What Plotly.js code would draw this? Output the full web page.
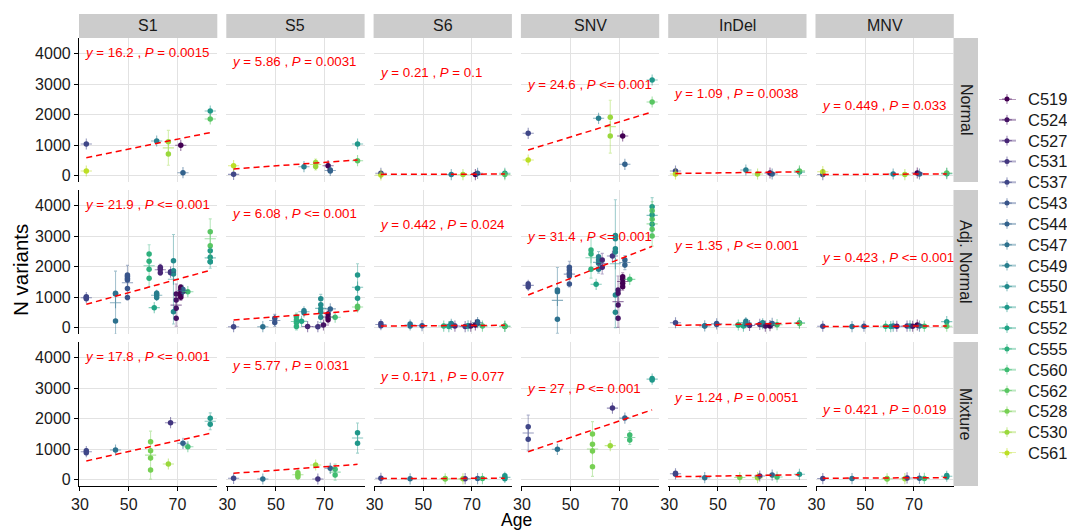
<!DOCTYPE html>
<html><head><meta charset="utf-8">
<script src="https://cdn.plot.ly/plotly-3.0.1.min.js"></script>
<style>html,body{margin:0;padding:0;background:#fff}#chart{width:1067px;height:530px}</style>
</head><body><div id="chart"></div>
<script>
// ---------------- DATA ----------------
const samples = ['C519','C524','C527','C531','C537','C543','C544','C547','C549','C550','C551','C552','C555','C560','C562','C528','C530','C561'];
const sampleAge = [71.4, 69.5, 63.0, 67.2, 32.6, 49.5, 72.3, 44.6, 61.5, 68.4, 83.5, 60.5, 58.4, 74.3, 83.5, 59.0, 66.3, 32.6];
const variantTypes = ['S1','S5','S6','SNV','InDel','MNV'];
const tissues = ['Normal','Adj. Normal','Mixture'];
const xTicks = [30, 50, 70];
const yTicks = [0, 1000, 2000, 3000, 4000];

// each entry: [sample, replicate values...]
const normal_S1 = [['C537',1033],['C561',146],['C549',1131],['C530',1110,705],['C519',990],['C544',90],['C551',2117],['C562',1854]];
const normal_S5 = [['C537',37],['C561',320],['C549',287],['C530',424,296],['C519',320],['C544',180,150],['C551',1033],['C562',485]];
const normal_S6 = [['C537',70],['C561',15],['C549',30],['C530',30],['C519',30],['C544',70],['C551',70],['C562',30]];
const normal_SNV = [['C537',1384],['C561',507],['C549',1877],['C530',1910,1296],['C519',1296],['C544',366],['C551',3135],['C562',2413]];
const normal_InDel = [['C537',146],['C561',47],['C549',179],['C530',47],['C519',80],['C544',47],['C551',110],['C562',150]];
const normal_MNV = [['C537',30],['C561',123],['C549',47],['C530',30],['C519',80],['C544',47],['C551',60],['C562',80]];

const adj_S1 = [['C537',1010,944,980],['C547',1121,1100,212],['C543',1720,1670,1610,1560,1280,980],['C555',2413,2173,1910,1614],['C552',650],['C549',1120,1070,980],['C527',1976,1910,1798],['C531',1832,1798],['C550',2193,1865,1756,517],['C524',1100,902,628,300],['C519',1319,1230,1121,990,1066],['C544',1250,1180],['C560',1175],['C551',2521,2304,2160,2160],['C562',3145,2685]];
const adj_S5 = [['C537',24],['C547',24],['C543',300,160],['C555',354,244,156,30],['C552',200],['C549',480,550],['C527',30],['C531',24],['C550',940,742,610,500,335],['C524',80],['C519',445,335,250],['C544',610],['C560',335],['C551',1723,1285,957],['C562',648,700]];
const adj_S6 = [['C537',130,60],['C547',110,50],['C543',60],['C555',46],['C552',30],['C549',130,70],['C527',46],['C531',30],['C550',46,60],['C524',46],['C519',80],['C544',190,130],['C560',46],['C551',46,30],['C562',40]];
const adj_SNV = [['C537',1427,1340],['C547',1230,1175,268],['C543',1976,1887,1778,1690,1427],['C555',2544,2413,1910],['C552',1417],['C549',2325,2215,2106,1910],['C527',2215,1976],['C531',2347],['C550',3022,2913,2587,2478,1066,500],['C524',1230,1121,737,300],['C519',1668,1580,1449,1340],['C544',2215,2051],['C560',1580],['C551',3967,3694,3387],['C562',3835,3552,3223,3003]];
const adj_InDel = [['C537',155],['C547',45,60],['C543',134,100],['C555',90,70],['C552',45],['C549',200,120],['C527',65],['C531',100],['C550',155,90],['C524',45],['C519',45,70],['C544',134],['C560',90],['C551',155],['C562',130]];
const adj_MNV = [['C537',40],['C547',30],['C543',40],['C555',40],['C552',30],['C549',45],['C527',40],['C531',45],['C550',50],['C524',40],['C519',80],['C544',45],['C560',40],['C551',190],['C562',40]];

const mix_S1 = [['C537',878,945],['C547',967],['C528',1240,944,704,309],['C530',507],['C531',1864],['C544',1187],['C560',1076],['C551',2008,1811]];
const mix_S5 = [['C537',38],['C547',15],['C528',222,156,90],['C530',474],['C531',15],['C544',366],['C560',333,146],['C551',1536,1186]];
const mix_S6 = [['C537',38],['C547',20],['C528',30,15],['C530',20],['C531',25],['C544',30],['C560',30],['C551',120,60,20]];
const mix_SNV = [['C537',1733,1318],['C547',990],['C528',1493,1154,935,420],['C530',1110],['C531',2343],['C544',2015],['C560',1460,1296],['C551',3270,3320]];
const mix_InDel = [['C537',202,170],['C547',58],['C528',62],['C530',58],['C531',113],['C544',145],['C560',80],['C551',170]];
const mix_MNV = [['C537',30],['C547',30],['C528',30,15],['C530',25],['C531',50],['C544',40],['C560',35],['C551',130,80]];

// linear fit per panel (slope shown in label, intercept estimated)
const slope_Normal = [16.2, 5.86, 0.21, 24.6, 1.09, 0.449];
const slope_Adj = [21.9, 6.08, 0.442, 31.4, 1.35, 0.423];
const slope_Mix = [17.8, 5.77, 0.171, 27, 1.24, 0.421];
const intercept_Normal = [56, 22, 28, 34, 29, 14];
const intercept_Adj = [48, 46, 34, 42, 26, 16];
const intercept_Mix = [28, 14, 24, 31, 50, 26];
const pText_Normal = ['= 0.0015','= 0.0031','= 0.1','<= 0.001','= 0.0038','= 0.033'];
const pText_Adj = ['<= 0.001','<= 0.001','= 0.024','<= 0.001','<= 0.001','<= 0.001'];
const pText_Mix = ['<= 0.001','= 0.031','= 0.077','<= 0.001','= 0.0051','= 0.019'];
const labelY = [4050, 3730, 3370, 2990, 2690, 2300];
const labelX = 32.5;

// ---------------- STYLE / LAYOUT ----------------
const panelData = [
  [normal_S1, normal_S5, normal_S6, normal_SNV, normal_InDel, normal_MNV],
  [adj_S1, adj_S5, adj_S6, adj_SNV, adj_InDel, adj_MNV],
  [mix_S1, mix_S5, mix_S6, mix_SNV, mix_InDel, mix_MNV]
];
const slopes = [slope_Normal, slope_Adj, slope_Mix];
const intercepts = [intercept_Normal, intercept_Adj, intercept_Mix];
const pTexts = [pText_Normal, pText_Adj, pText_Mix];

const FW = 1067, FH = 530;
const colL = [79, 226.3, 373.6, 520.9, 668.2, 815.5], PW = 138.3;
const rowT = [38, 190, 342], PH = 144;
const XR = [29.6, 86.4], YR = [-215, 4515];
const FONT = 'Liberation Sans, Arial, sans-serif';

const VIR = [[68,1,84],[72,36,117],[65,68,135],[53,95,141],[42,120,142],[33,145,140],[34,168,132],[68,191,112],[122,209,81],[189,223,38],[253,231,37]];
function viridis(t){
  const p = Math.max(0, Math.min(1, t)) * 10;
  const i = Math.min(9, Math.floor(p)); const f = p - i;
  return VIR[i].map((v,k)=>Math.round(v + (VIR[i+1][k]-v)*f));
}
const sampleRGB = samples.map((s,i)=>viridis(i/(samples.length-1)*0.9));
const rgba = (c,a)=>`rgba(${c[0]},${c[1]},${c[2]},${a})`;

const traces = [];
const layout = {
  width: FW, height: FH, margin: {l:0,r:0,t:0,b:0},
  paper_bgcolor: '#fff', plot_bgcolor: '#fff', showlegend: false,
  font: {family: FONT, color: '#000'},
  shapes: [], annotations: []
};

for (let r = 0; r < 3; r++) {
  for (let c = 0; c < 6; c++) {
    const k = r*6 + c + 1;
    const xn = k === 1 ? 'x' : 'x' + k, yn = k === 1 ? 'y' : 'y' + k;
    const xk = k === 1 ? 'xaxis' : 'xaxis' + k, yk = k === 1 ? 'yaxis' : 'yaxis' + k;
    const bottom = r === 2, left = c === 0;
    layout[xk] = {
      domain: [colL[c]/FW, (colL[c]+PW)/FW], range: XR, anchor: yn,
      tickvals: xTicks, ticktext: xTicks.map(String), showgrid: true, gridcolor: '#E2E2E2', gridwidth: 1,
      zeroline: false, showticklabels: bottom, ticks: bottom ? 'outside' : '', ticklen: 4, tickwidth: 1, tickcolor: '#000',
      showline: bottom, linecolor: '#000', linewidth: 1.1,
      tickfont: {size: 16, color: '#1a1a1a', family: FONT}, fixedrange: true
    };
    layout[yk] = {
      domain: [1-(rowT[r]+PH)/FH, 1-rowT[r]/FH], range: YR, anchor: xn,
      tickvals: yTicks, ticktext: yTicks.map(String), showgrid: true, gridcolor: '#E2E2E2', gridwidth: 1,
      zeroline: false, showticklabels: left, ticks: left ? 'outside' : '', ticklen: 4, tickwidth: 1, tickcolor: '#000',
      showline: left, linecolor: '#000', linewidth: 1.1,
      tickfont: {size: 16, color: '#1a1a1a', family: FONT}, fixedrange: true
    };

    const groups = panelData[r][c];
    const px = [], py = [], pc = [];
    let minA = Infinity, maxA = -Infinity;
    groups.forEach(g => {
      const si = samples.indexOf(g[0]); const age = sampleAge[si];
      minA = Math.min(minA, age); maxA = Math.max(maxA, age);
      g.slice(1).forEach(v => { px.push(age); py.push(v); pc.push(rgba(sampleRGB[si], 1)); });
    });
    traces.push({type:'scatter', mode:'markers', x:px, y:py, xaxis:xn, yaxis:yn, hoverinfo:'skip',
      marker:{size:5.5, color:pc, line:{width:0}}, cliponaxis:false});

    groups.forEach(g => {
      const si = samples.indexOf(g[0]); const age = sampleAge[si];
      const vals = g.slice(1); const n = vals.length;
      const mean = vals.reduce((a,b)=>a+b,0)/n;
      let sd = 0;
      if (n > 1) sd = Math.sqrt(vals.reduce((a,b)=>a+(b-mean)*(b-mean),0)/(n-1));
      traces.push({type:'scatter', mode:'markers', x:[age], y:[mean], xaxis:xn, yaxis:yn, hoverinfo:'skip',
        marker:{symbol:'cross-thin', size:8, color:rgba(sampleRGB[si],0.55), line:{width:1.1, color:rgba(sampleRGB[si],0.55)}},
        error_y:{type:'data', array:[2*sd], visible:n>1, color:rgba(sampleRGB[si],0.42), thickness:1.1, width:1.5},
        cliponaxis:false});
    });

    // regression line
    const lx = [minA, maxA];
    traces.push({type:'scatter', mode:'lines', x:lx, y:lx.map(a=>intercepts[r][c] + slopes[r][c]*a), xaxis:xn, yaxis:yn,
      hoverinfo:'skip', line:{color:'#FF0000', width:1.5, dash:'6px,4px'}});

    layout.annotations.push({xref:xn, yref:yn, x:labelX, y:labelY[c], xanchor:'left', yanchor:'middle', showarrow:false, xshift:-3,
      text:`<i>y</i> = ${slopes[r][c]} , <i>P</i> ${pTexts[r][c]}`, font:{size:13.3, color:'#FF0000', family:FONT}});
  }
}

// strips
variantTypes.forEach((v,c)=>{
  layout.shapes.push({type:'rect', xref:'paper', yref:'paper', x0:colL[c]/FW, x1:(colL[c]+PW)/FW, y0:1-38/FH, y1:1-14/FH,
    fillcolor:'#CCCCCC', line:{width:0}, layer:'below'});
  layout.annotations.push({xref:'paper', yref:'paper', x:(colL[c]+PW/2)/FW, y:1-26/FH, text:v, showarrow:false,
    xanchor:'center', yanchor:'middle', font:{size:16, color:'#1a1a1a', family:FONT}});
});
tissues.forEach((t,r)=>{
  layout.shapes.push({type:'rect', xref:'paper', yref:'paper', x0:953.5/FW, x1:978/FW, y0:1-(rowT[r]+PH)/FH, y1:1-rowT[r]/FH,
    fillcolor:'#CCCCCC', line:{width:0}, layer:'below'});
  layout.annotations.push({xref:'paper', yref:'paper', x:966/FW, y:1-(rowT[r]+PH/2)/FH, text:t, showarrow:false, textangle:90,
    xanchor:'center', yanchor:'middle', font:{size:16, color:'#1a1a1a', family:FONT}});
});

// axis titles
layout.annotations.push({xref:'paper', yref:'paper', x:20/FW, y:1-270/FH, text:'N variants', showarrow:false, textangle:-90,
  xanchor:'center', yanchor:'middle', font:{size:20.5, color:'#000', family:FONT}});
layout.annotations.push({xref:'paper', yref:'paper', x:516/FW, y:1-519.5/FH, text:'Age', showarrow:false,
  xanchor:'center', yanchor:'middle', font:{size:17.5, color:'#000', family:FONT}});

// custom legend (own axis: 17 px per unit horizontally)
layout.xaxis19 = {domain:[999/FW, 1067/FW], range:[0,4], visible:false, fixedrange:true, anchor:'y19'};
layout.yaxis19 = {domain:[1-453/FH, 1-99/FH], range:[samples.length-1, 0], visible:false, fixedrange:true, anchor:'x19'};
samples.forEach((s,i)=>{
  traces.push({type:'scatter', mode:'lines', x:[0,1], y:[i,i], xaxis:'x19', yaxis:'y19', hoverinfo:'skip',
    line:{color:rgba(sampleRGB[i],0.4), width:2}, cliponaxis:false});
  traces.push({type:'scatter', mode:'markers', x:[0.47], y:[i], xaxis:'x19', yaxis:'y19', hoverinfo:'skip',
    marker:{size:5, color:rgba(sampleRGB[i],1)}, cliponaxis:false});
  traces.push({type:'scatter', mode:'markers', x:[0.47], y:[i], xaxis:'x19', yaxis:'y19', hoverinfo:'skip',
    marker:{symbol:'cross-thin', size:7, line:{width:1, color:rgba(sampleRGB[i],0.6)}}, cliponaxis:false});
  layout.annotations.push({xref:'x19', yref:'y19', x:(1026-999)/17, y:i, text:s, showarrow:false, xanchor:'left', yanchor:'middle',
    font:{size:16.5, color:'#1a1a1a', family:FONT}});
});

Plotly.newPlot('chart', traces, layout, {staticPlot:true, displayModeBar:false});
</script>
</body></html>
